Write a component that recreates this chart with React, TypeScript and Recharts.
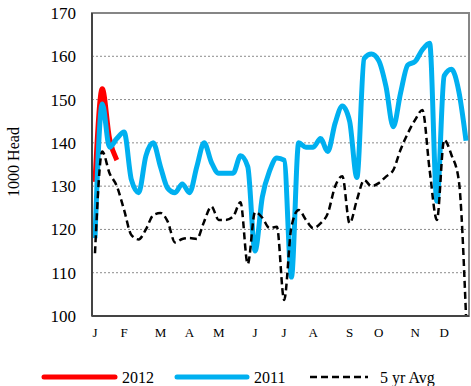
import React from 'react'
import {
  LineChart,
  Line,
  XAxis,
  YAxis,
  CartesianGrid,
  Legend,
  ReferenceArea,
  Label,
} from 'recharts'

// weekly values, week 0 = first week of January
const weeks = Array.from({ length: 52 }, (_, i) => i)

const monthTicks = [0, 4, 9, 13, 17, 22, 26, 30, 35, 39, 44, 48]
const monthLabels = ['J', 'F', 'M', 'A', 'M', 'J', 'J', 'A', 'S', 'O', 'N', 'D']

const yTicks = [100, 110, 120, 130, 140, 150, 160, 170]

const head2012 = [131, 152.5, 141, 136]

const head2011 = [
  118, 149, 139, 141, 142.5, 131.5, 128.5, 137, 140, 134.5, 129.5, 128.5, 130.5,
  128.5, 134.5, 140, 135.5, 133, 133, 133, 137, 134.5, 115, 127.5, 133.5, 136.5,
  136, 109, 140, 139, 139, 141, 138, 144.5, 148.5, 145, 132, 159.5, 160.5, 159,
  153, 143.7, 151.5, 158, 158.8, 161.5, 163, 126.5, 155.5, 157, 152, 140.5,
]

const avg5yr = [
  114.5, 138, 133, 130, 124.5, 118.7, 117.7, 120, 123.3, 123.8, 121.8, 117, 117.8,
  118, 117.8, 121.8, 125.3, 122.2, 122.2, 123, 126.3, 112, 124, 122.7, 120.3,
  120.6, 103.7, 120.6, 124.5, 122.2, 120.3, 121.4, 123.7, 129.9, 132.3, 121.4,
  126.8, 131.4, 130, 130.7, 132.2, 133.7, 138.4, 142.2, 145.3, 147.6, 133.7,
  122.2, 140.7, 137.2, 131.4, 100,
]

const seriesOrder = ['2012', '2011', '5 yr Avg']

const data = weeks.map((w, i) => ({
  week: w,
  y2012: i < head2012.length ? head2012[i] : null,
  y2011: head2011[i],
  avg: avg5yr[i],
}))

const FONT = '"Liberation Serif", "Times New Roman", serif'
const X_DOMAIN: [number, number] = [-0.41, 51.41]

// legend slots: line start, line end, text x
const legendSlots = [
  [44, 115, 122],
  [177, 247, 254],
  [310, 368, 380],
]

function LegendContent(props: any) {
  const payload: any[] = props.payload ?? []
  const items = seriesOrder
    .map((name) => payload.find((p) => p.value === name))
    .filter(Boolean)
  return (
    <svg width={471} height={20} style={{ display: 'block' }}>
      {items.map((p: any, i: number) => {
        const [x1, x2, tx] = legendSlots[i]
        const dashed = p.payload?.strokeDasharray
        return (
          <g key={p.value}>
            <line
              x1={x1}
              x2={x2}
              y1={10}
              y2={10}
              stroke={p.color}
              strokeWidth={dashed ? 2.5 : 5}
              strokeDasharray={dashed}
              strokeLinecap={dashed ? 'butt' : 'round'}
            />
            <text x={tx} y={15.5} fontSize={16} fontFamily={FONT} fill="#000">
              {p.value}
            </text>
          </g>
        )
      })}
    </svg>
  )
}

function YTitle() {
  return (
    <text
      x={13}
      y={162}
      transform="rotate(-90 13 162)"
      textAnchor="middle"
      dominantBaseline="central"
      fontSize={16}
      fontFamily={FONT}
      fill="#000"
    >
      1000 Head
    </text>
  )
}

export default function App() {
  return (
    <div style={{ position: 'absolute', left: 0, top: 0, width: 471, height: 386, background: '#fff' }}>
      <LineChart
        width={471}
        height={386}
        data={data}
        margin={{ top: 13, right: 2, bottom: 0, left: 0 }}
      >
        <CartesianGrid vertical={false} stroke="#8c8c8c" strokeDasharray="2 2" />
        <XAxis
          dataKey="week"
          type="number"
          domain={X_DOMAIN}
          allowDataOverflow
          ticks={monthTicks}
          interval={0}
          tickFormatter={(v: number) => monthLabels[monthTicks.indexOf(v)] ?? ''}
          tickLine={false}
          tickSize={0}
          tickMargin={12}
          height={70}
          axisLine={{ stroke: '#444', strokeWidth: 2 }}
          tick={{ fontSize: 13, fontFamily: FONT, fill: '#000' }}
        />
        <YAxis
          domain={[100, 170]}
          ticks={yTicks}
          interval={0}
          allowDataOverflow
          width={92}
          tickLine={false}
          tickSize={0}
          tickMargin={16}
          axisLine={{ stroke: '#444', strokeWidth: 2 }}
          tick={{ fontSize: 17, fontFamily: FONT, fill: '#000' }}
        >
          <Label content={<YTitle />} />
        </YAxis>
        <ReferenceArea
          x1={X_DOMAIN[0]}
          x2={X_DOMAIN[1]}
          y1={100}
          y2={170}
          fill="none"
          stroke="#868686"
          strokeWidth={2}
          ifOverflow="visible"
        />
        <Line
          name="2012"
          dataKey="y2012"
          type="monotone"
          stroke="#ff0000"
          strokeWidth={5}
          dot={false}
          isAnimationActive={false}
        />
        <Line
          name="2011"
          dataKey="y2011"
          type="monotone"
          stroke="#00b0f0"
          strokeWidth={5}
          dot={false}
          isAnimationActive={false}
        />
        <Line
          name="5 yr Avg"
          dataKey="avg"
          type="monotone"
          stroke="#000"
          strokeWidth={2.5}
          strokeDasharray="7 4"
          dot={false}
          isAnimationActive={false}
        />
        <Legend
          layout="horizontal"
          verticalAlign="middle"
          align="center"
          content={<LegendContent />}
          wrapperStyle={{ top: 367, left: 0, width: 471, height: 20 }}
        />
      </LineChart>
    </div>
  )
}
